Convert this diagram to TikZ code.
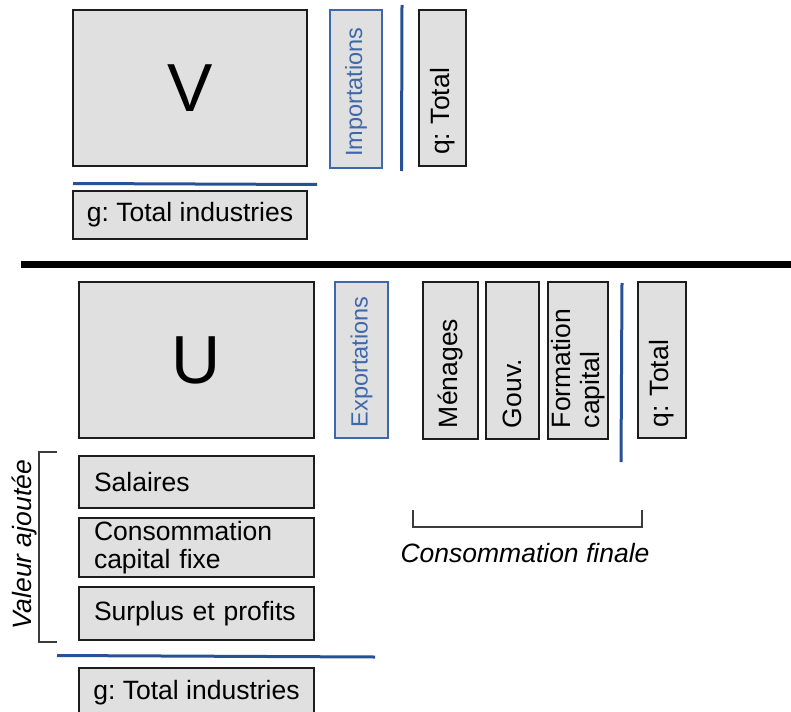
\documentclass[tikz,border=0pt]{standalone}
\usepackage{fontspec}
\setmainfont{Liberation Sans}
\frenchspacing
\definecolor{boxfill}{RGB}{224,224,224}
\definecolor{boxline}{RGB}{28,28,28}
\definecolor{bluel}{RGB}{40,80,148}
\definecolor{bluebox}{RGB}{62,104,172}
\definecolor{brk}{RGB}{60,60,60}
\begin{document}
\begin{tikzpicture}[x=1pt,y=-1pt,
  box/.style={draw=boxline, fill=boxfill, line width=1.8pt, inner sep=0pt,
    font=\fontsize{26.5}{28.5}\selectfont},
  bigbox/.style={box, font=\fontsize{68}{70}\selectfont},
  leftbox/.style={box, align=left, inner xsep=15pt, text width=205pt, minimum width=235pt},
  rbox/.style={box, rotate=90, align=left, inner xsep=11pt},
  bluebx/.style={rbox, draw=bluebox, text=bluebox, line width=1.5pt,
    font=\fontsize{23.5}{25}\selectfont},
  blueline/.style={draw=bluel, line width=3pt},
  bracket/.style={draw=brk, line width=1.8pt},
  lab/.style={inner sep=0pt, font=\fontsize{26.5}{28.5}\itshape\selectfont}
]
\useasboundingbox (0,0) rectangle (791,711);

% ---------- upper part ----------
\node[bigbox, minimum width=234pt, minimum height=156pt] (V) at (190,88) {V};
\node[bluebx, minimum width=158pt, minimum height=52pt, text width=136pt] (imp) at (356,89) {Importations};
\node[rbox, minimum width=156pt, minimum height=47pt, text width=134pt] (qtop) at (442.5,88) {q: Total};
\node[box, minimum width=234pt, minimum height=48pt] (gtop) at (190,215) {g: Total industries};

\draw[blueline] (73,183.5) -- (317,184.5);
\draw[blueline] (402,5) -- (401.5,171);

% ---------- separator ----------
\coordinate (sepL) at (21,264);
\coordinate (sepR) at (791,264);
\draw[line width=7pt] (sepL) -- (sepR);

% ---------- lower part ----------
\node[bigbox, minimum width=235pt, minimum height=156pt] (U) at (196.5,360) {U};
\node[bluebx, minimum width=156pt, minimum height=53pt, text width=134pt] (exp) at (361.5,360) {Exportations};
\node[rbox, minimum width=157pt, minimum height=55pt, text width=135pt] (men) at (450.5,360.5) {Ménages};
\node[rbox, minimum width=157pt, minimum height=53pt, text width=135pt] (gouv) at (512.5,360.5) {Gouv.};
\node[rbox, minimum width=157pt, minimum height=60pt, text width=135pt] (form) at (578,360.5) {Formation\\capital};
\node[rbox, minimum width=156pt, minimum height=48pt, text width=134pt] (qbot) at (662,360) {q: Total};

\draw[blueline] (622,283) -- (621,462);

\node[leftbox, minimum height=52pt] (sal) at (196.5,482) {Salaires};
\node[leftbox, minimum height=59pt] (ccf) at (196.5,547.5) {Consommation\\capital fixe};
\node[leftbox, minimum height=53pt] (sur) at (196.5,613.5) {Surplus et profits};

\draw[blueline] (57,655.5) -- (375,657);
\node[box, minimum width=235pt, minimum height=50pt] (gbot) at (196.5,693) {g: Total industries};

% brackets
\draw[bracket] (57,452) -- (39,452) -- (39,642) -- (57,642);
\node[lab, rotate=90] (va) at (24.5,545) {Valeur ajoutée};
\draw[bracket, line width=1.5pt] (413,510) -- (413,527) -- (642,527) -- (642,510);
\node[lab] (cf) at (525,553) {Consommation finale};
\end{tikzpicture}
\end{document}
